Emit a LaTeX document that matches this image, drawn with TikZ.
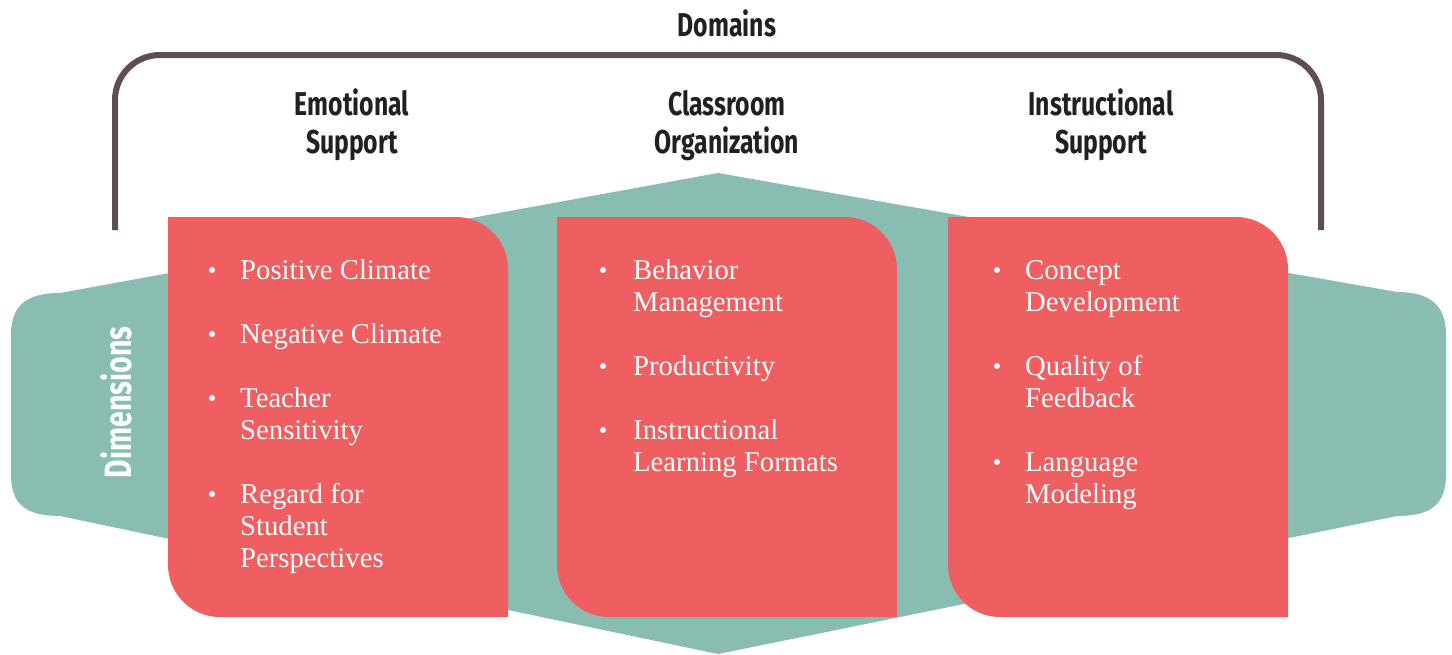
\documentclass[tikz,border=0pt]{standalone}
\usepackage{fontspec}
\setmainfont{Liberation Serif}
\newfontfamily\headfont[FakeStretch=0.75]{Fira Sans}
\definecolor{teal1}{HTML}{8ABDB1}
\definecolor{red1}{HTML}{EF5F62}
\definecolor{brk}{HTML}{5D4E55}
\definecolor{ink}{HTML}{231F20}
\tikzset{
  bracketline/.style={draw=brk, line width=6pt, rounded corners=45pt},
  cardshape/.style={fill=red1},
  lobe/.style={fill=teal1},
  headtxt/.style={font=\headfont\bfseries\fontsize{33}{38}\selectfont, text=ink, inner sep=0pt, anchor=base},
  itm/.style={font=\fontsize{28.7}{32}\selectfont, text=white, inner sep=0pt, anchor=base west},
  bul/.style={circle, fill=white, inner sep=0pt, minimum size=6pt},
}
\begin{document}
\begin{tikzpicture}[x=1pt,y=-1pt]
\useasboundingbox (0,0) rectangle (1452,654);
% bracket
\coordinate (bl) at (115,230);
\coordinate (br) at (1321,230);
\draw[bracketline] (bl) -- (115,55) -- (1321,55) -- (br);
% teal shape
\path[lobe] (60,293) -- (718,173) -- (1397,292)
  .. controls (1430,292) and (1446,305) .. (1446,335) -- (1446,475)
  .. controls (1446,505) and (1430,516) .. (1397,516) -- (718,654) -- (60,516)
  .. controls (27,516) and (11,505) .. (11,475) -- (11,335)
  .. controls (11,305) and (27,293) .. (60,293) -- cycle;
% cards
\path[cardshape] (168,217) -- (456,217) .. controls (484.7,217) and (508,240.3) .. (508,269) -- (508,617) -- (220,617) .. controls (191.3,617) and (168,593.7) .. (168,565) -- cycle;
\path[cardshape] (557,217) -- (845,217) .. controls (873.7,217) and (897,240.3) .. (897,269) -- (897,617) -- (609,617) .. controls (580.3,617) and (557,593.7) .. (557,565) -- cycle;
\path[cardshape] (948,217) -- (1236,217) .. controls (1264.7,217) and (1288,240.3) .. (1288,269) -- (1288,617) -- (1000,617) .. controls (971.3,617) and (948,593.7) .. (948,565) -- cycle;
% titles
\node[headtxt] (dom) at (727,36) {Domains};
\node[headtxt] (h1a) at (352,115) {Emotional};
\node[headtxt] (h1b) at (352,153) {Support};
\node[headtxt] (h2a) at (727,115) {Classroom};
\node[headtxt] (h2b) at (727,153) {Organization};
\node[headtxt] (h3a) at (1101,115) {Instructional};
\node[headtxt] (h3b) at (1101,153) {Support};
\node[headtxt, text=white, font=\headfont\bfseries\fontsize{38}{40}\selectfont, rotate=90] (dim) at (131,402.5) {Dimensions};
% card 1
\node[bul] (b11) at (212,270) {};
\node[itm] (t11) at (240,279) {Positive Climate};
\node[bul] (b12) at (212,334) {};
\node[itm] (t12) at (240,343) {Negative Climate};
\node[bul] (b13) at (212,398) {};
\node[itm] (t13) at (240,407) {Teacher};
\node[itm] (t13b) at (240,439) {Sensitivity};
\node[bul] (b14) at (212,494) {};
\node[itm] (t14) at (240,503) {Regard for};
\node[itm] (t14b) at (240,535) {Student};
\node[itm] (t14c) at (240,567) {Perspectives};
% card 2
\node[bul] (b21) at (603,270) {};
\node[itm] (t21) at (633,279) {Behavior};
\node[itm] (t21b) at (633,311) {Management};
\node[bul] (b22) at (603,366) {};
\node[itm] (t22) at (633,375) {Productivity};
\node[bul] (b23) at (603,430) {};
\node[itm] (t23) at (633,439) {Instructional};
\node[itm] (t23b) at (633,471) {Learning Formats};
% card 3
\node[bul] (b31) at (997,270) {};
\node[itm] (t31) at (1025,279) {Concept};
\node[itm] (t31b) at (1025,311) {Development};
\node[bul] (b32) at (997,366) {};
\node[itm] (t32) at (1025,375) {Quality of};
\node[itm] (t32b) at (1025,407) {Feedback};
\node[bul] (b33) at (997,462) {};
\node[itm] (t33) at (1025,471) {Language};
\node[itm] (t33b) at (1025,503) {Modeling};
\end{tikzpicture}
\end{document}
